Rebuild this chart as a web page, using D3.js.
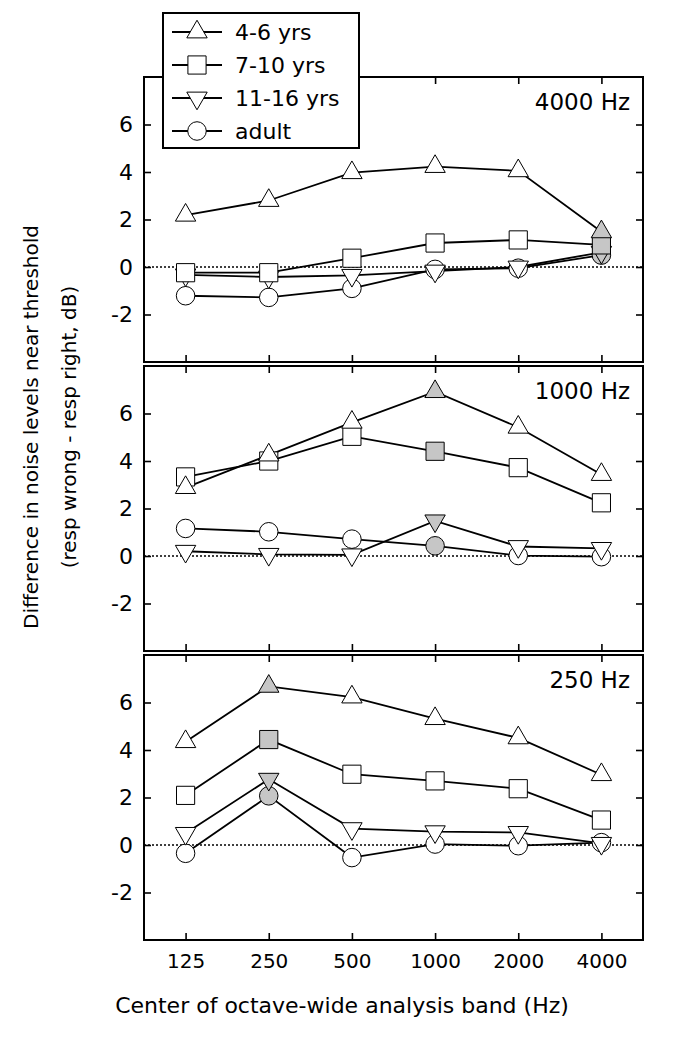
<!DOCTYPE html>
<html>
<head>
<meta charset="utf-8">
<script src="https://cdn.jsdelivr.net/npm/d3@7"></script>
<style>
  body { margin: 0; background: #fff; }
  svg text { font-family: "DejaVu Sans", Verdana, sans-serif; fill: #000; }
</style>
</head>
<body>
<svg id="chart" width="685" height="1049"></svg>
<script>
// octave bands on the x axis
const bands = ['125', '250', '500', '1000', '2000', '4000'];
const groups = ['4-6 yrs', '7-10 yrs', '11-16 yrs', 'adult'];
const panelLabels = ['4000 Hz', '1000 Hz', '250 Hz'];
const probeBands = ['4000', '1000', '250'];
const yTicks = [-2, 0, 2, 4, 6];

// 4000 Hz panel
const age46_4000 = [2.18, 2.8, 3.97, 4.23, 4.05, 1.48];
const age710_4000 = [-0.24, -0.24, 0.37, 1.01, 1.14, 0.93];
const age1116_4000 = [-0.33, -0.42, -0.35, -0.17, 0.0, 0.62];
const adult_4000 = [-1.21, -1.28, -0.9, -0.1, -0.05, 0.5];

// 1000 Hz panel
const age46_1000 = [2.88, 4.25, 5.63, 6.92, 5.42, 3.43];
const age710_1000 = [3.33, 4.0, 5.04, 4.41, 3.72, 2.24];
const age1116_1000 = [0.2, 0.07, 0.05, 1.48, 0.4, 0.32];
const adult_1000 = [1.16, 1.02, 0.71, 0.43, 0.02, -0.03];

// 250 Hz panel
const age46_250 = [4.35, 6.68, 6.23, 5.32, 4.51, 2.96];
const age710_250 = [2.09, 4.44, 2.98, 2.7, 2.37, 1.05];
const age1116_250 = [0.49, 2.77, 0.69, 0.56, 0.53, 0.07];
const adult_250 = [-0.35, 2.07, -0.53, 0.04, -0.03, 0.1];

const panelValues = [
  [age46_4000, age710_4000, age1116_4000, adult_4000],
  [age46_1000, age710_1000, age1116_1000, adult_1000],
  [age46_250, age710_250, age1116_250, adult_250]
];

const left = 144, right = 643;
const panelTops = [77, 366, 655];
const panelH = 285;

const svg = d3.select('#chart');

const x = d3.scalePoint().domain(bands).range([left, right]).padding(0.5);

const symbols = [
  { type: d3.symbolTriangle, size: 180, rot: 0 },
  { type: d3.symbolSquare, size: 330, rot: 0 },
  { type: d3.symbolTriangle, size: 180, rot: 180 },
  { type: d3.symbolCircle, size: 270, rot: 0 }
];

const line = d3.line();

panelValues.forEach((series, p) => {
  const top = panelTops[p], bottom = top + panelH;
  const y = d3.scaleLinear().domain([-4, 8]).range([bottom, top]);
  const g = svg.append('g');

  // zero reference line
  g.append('line')
    .attr('x1', left).attr('x2', right)
    .attr('y1', y(0)).attr('y2', y(0))
    .attr('stroke', '#000').attr('stroke-width', 1.6)
    .attr('stroke-dasharray', '2,2');

  // axes, ticks pointing inward
  const yl = g.append('g').attr('transform', `translate(${left},0)`)
    .call(d3.axisLeft(y).tickValues(yTicks).tickSizeInner(-7).tickSizeOuter(0).tickPadding(11)
      .tickFormat(d => String(d)));
  const yr = g.append('g').attr('transform', `translate(${right},0)`)
    .call(d3.axisRight(y).tickValues(yTicks).tickSizeInner(-7).tickSizeOuter(0).tickFormat(''));
  const xt = g.append('g').attr('transform', `translate(0,${top})`)
    .call(d3.axisTop(x).tickSizeInner(-7).tickSizeOuter(0).tickFormat(''));
  const xb = g.append('g').attr('transform', `translate(0,${bottom})`)
    .call(d3.axisBottom(x).tickSizeInner(-7).tickSizeOuter(0).tickPadding(14)
      .tickFormat(p === 2 ? d => d : ''));
  [yl, yr, xt, xb].forEach(a => {
    a.select('.domain').remove();
    a.selectAll('line').attr('stroke-width', 1.6);
  });
  yl.selectAll('text').style('font-size', '22px');
  xb.selectAll('text').style('font-size', '20px');

  g.append('rect')
    .attr('x', left).attr('y', top)
    .attr('width', right - left).attr('height', panelH)
    .attr('fill', 'none').attr('stroke', '#000').attr('stroke-width', 2);

  g.append('text')
    .attr('x', 630).attr('y', top + 33)
    .attr('text-anchor', 'end')
    .style('font-size', '23px')
    .text(panelLabels[p]);

  // draw adult first so younger groups sit on top
  [3, 2, 1, 0].forEach(s => {
    const vals = series[s];
    g.append('path')
      .attr('d', line(vals.map((v, i) => [x(bands[i]), y(v)])))
      .attr('fill', 'none').attr('stroke', '#000').attr('stroke-width', 1.8);
  });
  [3, 2, 1, 0].forEach(s => {
    const vals = series[s];
    const sym = symbols[s];
    g.selectAll(null)
      .data(vals)
      .join('path')
      .attr('transform', (v, i) => `translate(${x(bands[i])},${y(v)}) rotate(${sym.rot})`)
      .attr('d', d3.symbol().type(sym.type).size(sym.size))
      .attr('fill', (v, i) => bands[i] === probeBands[p] ? '#c6c6c6' : '#fff')
      .attr('stroke', '#000').attr('stroke-width', 1);
  });
});

// legend
const lg = svg.append('g');
lg.append('rect')
  .attr('x', 163).attr('y', 13).attr('width', 196).attr('height', 135)
  .attr('fill', '#fff').attr('stroke', '#000').attr('stroke-width', 2);
groups.forEach((name, i) => {
  const cy = 32 + i * 33;
  lg.append('line')
    .attr('x1', 172).attr('x2', 222).attr('y1', cy).attr('y2', cy)
    .attr('stroke', '#000').attr('stroke-width', 1.8);
  lg.append('path')
    .attr('transform', `translate(197,${cy}) rotate(${symbols[i].rot})`)
    .attr('d', d3.symbol().type(symbols[i].type).size(symbols[i].size))
    .attr('fill', '#fff').attr('stroke', '#000').attr('stroke-width', 1);
  lg.append('text')
    .attr('x', 235).attr('y', cy + 8)
    .style('font-size', '22px')
    .text(name);
});

// axis titles
svg.append('text')
  .attr('x', 342).attr('y', 1013)
  .attr('text-anchor', 'middle')
  .style('font-size', '22px')
  .text('Center of octave-wide analysis band (Hz)');

const yt = svg.append('text')
  .attr('transform', 'translate(0,427) rotate(-90)')
  .attr('text-anchor', 'middle')
  .style('font-size', '20px');
yt.append('tspan').attr('x', 0).attr('y', 38).text('Difference in noise levels near threshold');
yt.append('tspan').attr('x', 0).attr('y', 76).text('(resp wrong - resp right, dB)');
</script>
</body>
</html>
